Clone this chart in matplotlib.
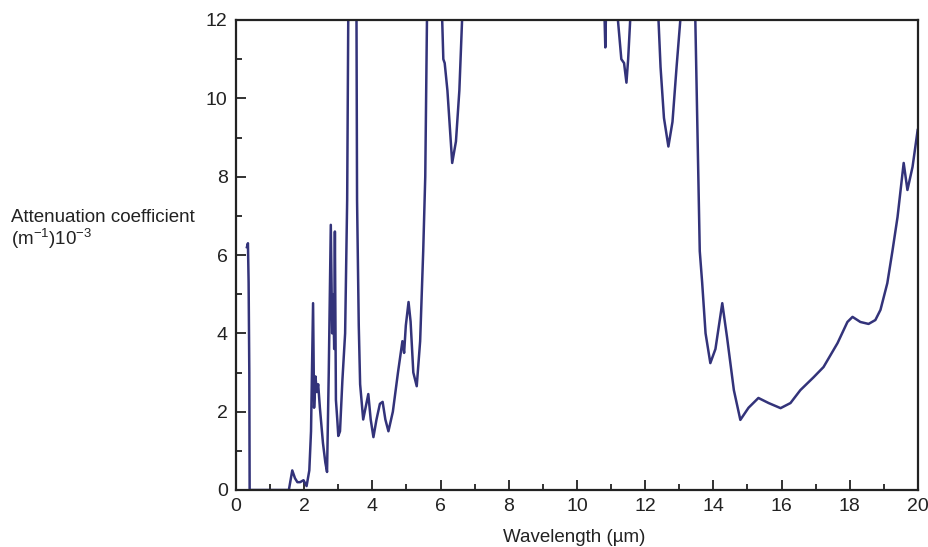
import matplotlib
matplotlib.use("Agg")
import matplotlib.pyplot as plt
from matplotlib.ticker import MultipleLocator

plt.rcParams["font.family"] = ["Liberation Sans", "DejaVu Sans"]
plt.rcParams["mathtext.fontset"] = "custom"
plt.rcParams["mathtext.rm"] = "Liberation Sans"
plt.rcParams["mathtext.it"] = "Liberation Sans"

# wavelength (um) and attenuation coefficient (1e-3 / m)
wavelength = [
    0.32, 0.35, 0.37, 0.39, 0.40, 1.55, 1.65, 1.73, 1.80, 1.88, 1.98, 2.07,
    2.15, 2.20, 2.26, 2.29, 2.33, 2.37, 2.41, 2.46, 2.55, 2.62, 2.67, 2.72,
    2.78, 2.82, 2.85, 2.88, 2.90, 2.93, 2.97, 3.00, 3.05, 3.12, 3.20, 3.26,
    3.29, 3.30, 3.53, 3.55, 3.60, 3.64, 3.73, 3.80, 3.88, 3.95, 4.03, 4.12,
    4.22, 4.30, 4.38, 4.47, 4.60, 4.75, 4.88, 4.93, 4.98, 5.06, 5.12, 5.20,
    5.30, 5.40, 5.49, 5.55, 5.60, 5.62, 6.00, 6.05, 6.08, 6.12, 6.20, 6.34,
    6.45, 6.55, 6.63, 6.70, 10.78, 10.83, 10.87, 11.15, 11.20, 11.30, 11.38,
    11.45, 11.50, 11.56, 11.60, 12.35, 12.39, 12.45, 12.55, 12.68, 12.80,
    12.92, 13.03, 13.08, 13.45, 13.47, 13.60, 13.67, 13.77, 13.91, 14.06,
    14.26, 14.40, 14.60, 14.79, 15.03, 15.32, 15.62, 15.97, 16.26, 16.55,
    16.94, 17.23, 17.64, 17.93, 18.08, 18.31, 18.55, 18.75, 18.90, 19.10,
    19.25, 19.40, 19.58, 19.69, 19.84, 19.99,
]
attenuation = [
    6.2, 6.3, 5.3, 3.0, 0.0, 0.0, 0.5, 0.3, 0.2, 0.2, 0.25, 0.1,
    0.5, 1.5, 4.77, 2.1, 2.9, 2.5, 2.7, 2.1, 1.2, 0.7, 0.46, 3.0,
    6.77, 4.0, 5.0, 3.6, 6.6, 2.3, 1.8, 1.38, 1.5, 2.8, 4.0, 7.4,
    12.0, 13.0, 13.0, 7.4, 4.2, 2.7, 1.8, 2.1, 2.45, 1.8, 1.35, 1.8,
    2.2, 2.25, 1.8, 1.5, 2.0, 3.0, 3.8, 3.5, 4.2, 4.8, 4.3, 3.0,
    2.65, 3.8, 6.1, 8.0, 12.0, 13.0, 13.0, 11.9, 11.0, 10.9, 10.2, 8.35,
    8.9, 10.2, 12.0, 13.0, 13.0, 11.3, 13.0, 13.0, 12.0, 11.0, 10.9,
    10.4, 11.0, 12.0, 13.0, 13.0, 12.0, 10.8, 9.5, 8.77, 9.4,
    10.8, 12.0, 13.0, 13.0, 12.0, 6.1, 5.3, 4.0, 3.24, 3.6,
    4.77, 3.9, 2.55, 1.79, 2.1, 2.35, 2.22, 2.09, 2.22, 2.55,
    2.88, 3.14, 3.75, 4.29, 4.42, 4.29, 4.24, 4.34, 4.6, 5.28,
    6.1, 6.97, 8.35, 7.66, 8.25, 9.19,
]

LINE_COLOR = "#33337a"
TEXT_COLOR = "#222222"

fig = plt.figure(figsize=(9.29, 5.47), dpi=100)
ax = fig.add_axes([236 / 929, 57 / 547, 682 / 929, 470 / 547])

ax.plot(wavelength, attenuation, color=LINE_COLOR, lw=1.8,
        solid_joinstyle="round")

ax.set_xlim(0, 20)
ax.set_ylim(0, 12)
ax.xaxis.set_major_locator(MultipleLocator(2))
ax.xaxis.set_minor_locator(MultipleLocator(1))
ax.yaxis.set_major_locator(MultipleLocator(2))
ax.yaxis.set_minor_locator(MultipleLocator(1))
ax.tick_params(which="both", direction="in", top=False, right=False,
               width=1.3, labelsize=14, colors=TEXT_COLOR)
ax.tick_params(which="major", length=7, pad=6)
ax.tick_params(which="minor", length=4)
for side in ax.spines.values():
    side.set_linewidth(1.6)
    side.set_color(TEXT_COLOR)

fig.text(11 / 929, 1 - 217 / 547, "Attenuation coefficient", fontsize=13.5,
         ha="left", va="center", color=TEXT_COLOR)
fig.text(11 / 929, 1 - 239 / 547, r"(m$^{-1}$)10$^{-3}$", fontsize=13.5,
         ha="left", va="center", color=TEXT_COLOR)
fig.text(574 / 929, 1 - 537 / 547, "Wavelength (µm)", fontsize=13.5,
         ha="center", va="center", color=TEXT_COLOR)

fig.savefig("out.png", dpi=100)
